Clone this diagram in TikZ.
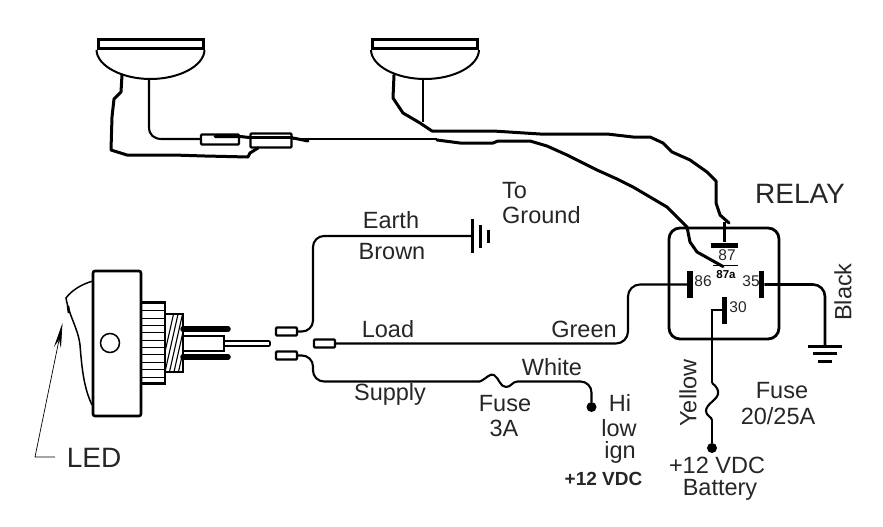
\documentclass[tikz,border=0pt]{standalone}
\usepackage{fontspec}
\setmainfont{Liberation Sans}
\usetikzlibrary{positioning, arrows.meta}
\tikzstyle{wire}=[line width=2.1pt, line join=round]
\tikzstyle{handwire}=[line width=3pt, line join=round, line cap=round]
\tikzstyle{lbl}=[inner sep=0pt, font=\fontsize{23.5}{23.5}\selectfont, text=black!85]
\tikzstyle{pinlbl}=[inner sep=0pt, font=\fontsize{15.5}{15.5}\selectfont, text=black!85]
\tikzstyle{boldlbl}=[inner sep=0pt, font=\fontsize{19}{19}\selectfont\bfseries, text=black!85]
\tikzstyle{term}=[rectangle, draw, line width=2.2pt, rounded corners=1pt, minimum width=21pt,
                          % The rest
                          minimum height=8pt, inner sep=0pt]
\tikzstyle{fuse}=[rectangle, draw, line width=2.2pt, rounded corners=1pt, inner sep=0pt]
\tikzstyle{lamptop}=[rectangle, draw, line width=3pt, minimum width=105pt, minimum height=9pt, inner sep=0pt]
\tikzstyle{pinbar}=[rectangle, fill=black, inner sep=0pt, minimum width=5.5pt, minimum height=27pt]
\tikzstyle{dot}=[circle, fill=black, inner sep=0pt, minimum size=10pt]
\tikzstyle{gndbar}=[rectangle, fill=black, inner sep=0pt]

\begin{document}
\begin{tikzpicture}[x=1pt, y=-1pt]
  \useasboundingbox (0,0) rectangle (883,527);

  % Lamps on the top row
  \node[lamptop] (lamp1) at (150.5,44) {};
  \node[lamptop] (lamp2) at (425,44) {};
  \draw[line width=2pt] (lamp1.south west) .. controls (97,66) and (122,79) .. (150.5,79) .. controls (179,79) and (204,66) .. (lamp1.south east);
  \draw[line width=2pt] (lamp2.south west) .. controls (371.5,66) and (396,79) .. (425,79) .. controls (454,79) and (478.5,66) .. (lamp2.south east);
  \coordinate (l1in) at (149,79);
  \coordinate (l1out) at (122,75);
  \coordinate (l2in) at (423,79);
  \coordinate (l2out) at (394,75);

  % Fuses in the lamp wires
  \node[fuse, minimum width=38pt, minimum height=10pt] (f1) at (220,139.5) {};
  \node[fuse, minimum width=41pt, minimum height=14pt] (f2) at (271,140.5) {};
  \draw[wire] (f2.west |- 0,137.5) -- (f2.east |- 0,137.5);
  \draw[handwire] (215,136.5) -- (f1.east |- 0,136.5) -- (f2.west |- 0,137.5);

  % Relay box and its pins
  \node[rectangle, draw, line width=2.8pt, rounded corners=11pt, minimum width=110pt, minimum height=111pt, inner sep=0pt] (relay) at (724,283.5) {};
  \node[gndbar, minimum width=27pt, minimum height=5pt] (p87) at (724.5,245) {};
  \node[pinbar] (p86) at (690,284.5) {};
  \node[pinbar] (p35) at (761.5,284.5) {};
  \node[pinbar, minimum width=5pt] (p30) at (724.5,310) {};
  \node[pinlbl] (l87) at (727,255) {87};
  \node[pinlbl] (l86) at (703,281) {86};
  \node[pinlbl] (l35) at (751,281) {35};
  \node[pinlbl] (l30) at (738,307) {30};
  \node[inner sep=0pt, font=\fontsize{11.5}{11.5}\selectfont\bfseries] (l87a) at (726,275) {87a};
  \coordinate (ua) at (713,265.5);
  \coordinate (ub) at (738,265.5);
  \draw[line width=.6pt] (ua) -- (ub);
  \node[font=\fontsize{28}{28}\selectfont, inner sep=0pt, text=black!85] (relaytxt) at (800,194) {RELAY};

  % Wires from the lamps to the relay
  \coordinate (r87) at (729,223);
  \coordinate (r87a) at (723,266.5);
  \draw[wire] (l1in) -- (149,127) .. controls (149,135) and (154,139) .. (162,139) -- (f1.west |- 0,139);
  \draw[handwire] (l1out) -- (121,92) -- (114,99) -- (112,117) -- (111,150) -- (127,155) -- (173,155) -- (205,156) -- (248,157) -- (250,153) -- (258,148);
  \draw[wire] (l2in) -- (423,122);
  \draw[handwire] (l2out) -- (393,98) -- (403,113) -- (420,123) -- (432,131) -- (453,131) -- (493,131) -- (540,134) -- (607,134) -- (633,137) -- (650,137) -- (663,143) -- (672,152) -- (690,160) -- (707,172) -- (716,181) -- (716,203) -- (720,215) -- (r87);
  \draw[wire] (f2.east |- 0,139) -- (437,139);
  \draw[handwire] (293,138) -- (308,141);
  \draw[handwire] (437,140) -- (460,143) -- (493,143) -- (498,141) -- (530,141) -- (547,146) -- (567,155) -- (597,170) -- (617,179) -- (633,187) -- (650,197) -- (667,207) -- (687,227) -- (690,242) -- (697,252) -- (r87a);
  \draw[line width=2.6pt] (724.5,222) -- (p87.north);

  % Switch body and rocker
  \node[rectangle, draw, line width=2.6pt, rounded corners=2pt, minimum width=48pt, minimum height=145pt, inner sep=0pt] (body) at (117,343.5) {};
  \node[circle, draw, line width=1.5pt, minimum size=19pt, inner sep=0pt] (led) at (110,343) {};
  \draw[line width=1.5pt] (93,281) .. controls (82,284) and (72,290) .. (66,298) .. controls (69,316) and (78,328) .. (80,345) .. controls (82,370) and (84,388) .. (92,405);
  \draw[line width=2.6pt] (68,306) -- (69,313);

  % Collar and thread
  \node[rectangle, draw, line width=2.8pt, minimum width=24pt, minimum height=81pt, inner sep=0pt] (collar) at (153,343) {};
  \foreach \yy in {310,318,325,332,340,347,354,362,369,377}
    \draw[line width=.7pt] (141,\yy) -- (165,\yy);
  \node[rectangle, draw, line width=2.8pt, minimum width=18pt, minimum height=58pt, inner sep=0pt] (thread) at (174,343) {};
  \begin{scope}
    \clip (165,315) rectangle (182,371);
    \foreach \xx in {166,170.5,175,179.5,184,188.5,193}
      \draw[line width=1.1pt] (\xx+8,312) -- (\xx-6,374);
  \end{scope}

  % Switch blades
  \coordinate (blA) at (183,329);
  \coordinate (blB) at (228,329);
  \coordinate (blC) at (183,357);
  \coordinate (blD) at (228,357);
  \draw[line width=5.5pt, line cap=round] (blA) -- (blB);
  \draw[line width=5.5pt, line cap=round] (blC) -- (blD);
  \node[rectangle, draw, line width=1.8pt, minimum width=41pt, minimum height=15pt, inner sep=0pt] (blade) at (203.5,343.5) {};
  \node[rectangle, draw, line width=1.6pt, rounded corners=1pt, minimum width=46pt, minimum height=5pt, inner sep=0pt] (spade) at (247,343.5) {};

  % Terminals
  \node[term] (t1) at (286.5,331.5) {};
  \node[term] (t2) at (324.5,343.5) {};
  \node[term] (t3) at (286.5,355.5) {};

  % Earth wire and its ground
  \node[gndbar, minimum width=2.5pt, minimum height=34pt] (g1) at (472.5,236) {};
  \node[gndbar, minimum width=3pt, minimum height=23pt] (g2) at (480.5,236.5) {};
  \node[gndbar, minimum width=3pt, minimum height=13pt] (g3) at (488,236.5) {};
  \draw[wire, rounded corners=11pt] (t1.east) -- (313,331.5) -- (313,236) -- (g1.west);
  \node[lbl] (earth) at (391,220) {Earth};
  \node[lbl] (brown) at (392,252) {Brown};
  \node[lbl, anchor=west] (to) at (502,191) {To};
  \node[lbl, anchor=west] (ground) at (502,215) {Ground};

  % Load wire to pin 86
  \draw[wire, rounded corners=12pt] (t2.east) -- (628,343.5) -- (628,284.5) -- (p86.west);
  \node[lbl] (load) at (388,329) {Load};
  \node[lbl] (green) at (584,329) {Green};

  % Supply wire with fuse
  \coordinate (sfa) at (480,381.5);
  \coordinate (sfb) at (517,381.5);
  \node[dot] (hi) at (591.5,407) {};
  \draw[wire, rounded corners=11pt] (t3.east) -- (313,355.5) -- (313,381.5) -- (sfa);
  \draw[wire] (sfa) .. controls (487,378) and (490,373) .. (494,375) .. controls (499,378) and (500,387) .. (506,387) .. controls (511,387) and (512,382) .. (sfb);
  \draw[wire, rounded corners=11pt] (sfb) -- (591.5,381.5) -- (hi.north);
  \node[lbl] (supply) at (390,394) {Supply};
  \node[lbl] (white) at (552,367) {White};
  \node[lbl] (fuse3) at (505,404) {Fuse};
  \node[lbl] (amp3) at (504,428) {3A};
  \node[lbl] (hitxt) at (620,403) {Hi};
  \node[lbl] (lowtxt) at (619,428) {low};
  \node[lbl] (igntxt) at (620,452) {ign};
  \node[boldlbl] (vdc1) at (603.5,479) {+12 VDC};

  % Pin 30 to the battery
  \node[dot] (batt) at (712,448) {};
  \coordinate (bfa) at (712,383);
  \coordinate (bfb) at (712,420);
  \draw[line width=2.6pt] (p30.west) -- (712,310) -- (bfa);
  \draw[wire] (bfa) .. controls (716,386) and (719,390) .. (718,394) .. controls (717,400) and (706,404) .. (706,411) .. controls (706,416) and (712,417) .. (bfb);
  \draw[line width=2.6pt] (bfb) -- (batt.north);
  \node[lbl, rotate=90] (yellow) at (688,393) {Yellow};
  \node[lbl] (fuse20) at (782,391) {Fuse};
  \node[lbl] (amp20) at (778,416) {20/25A};
  \node[lbl] (vdc2) at (717,465) {+12 VDC};
  \node[lbl] (battery) at (720,490) {Battery};

  % Pin 35 to chassis ground
  \node[gndbar, minimum width=34pt, minimum height=3pt] (b1) at (825,346.5) {};
  \node[gndbar, minimum width=24pt, minimum height=3.5pt] (b2) at (825,353.5) {};
  \node[gndbar, minimum width=14pt, minimum height=3pt] (b3) at (825,361) {};
  \draw[line width=2.6pt, rounded corners=12pt] (p35.east) -- (825,284.5) -- (b1.north);
  \node[lbl, rotate=90] (black) at (843,292) {Black};

  % LED pointer
  \coordinate (ledA) at (55,457);
  \coordinate (ledB) at (35,457);
  \coordinate (ledC) at (62.5,323);
  \draw[line width=.7pt, -{Stealth[length=25pt, width=7pt]}] (ledA) -- (ledB) -- (ledC);
  \node[font=\fontsize{28}{28}\selectfont, inner sep=0pt, text=black!85] (ledtxt) at (94,458) {LED};
\end{tikzpicture}
\end{document}
